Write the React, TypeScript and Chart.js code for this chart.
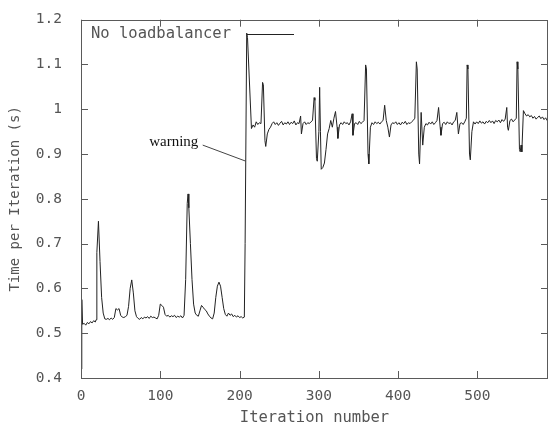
import React, { useEffect, useRef } from "react";
import { Chart, registerables } from "chart.js";

Chart.register(...registerables);

const iterations = [
  0, 1, 2, 4, 6, 8, 10, 12, 14, 16, 18, 19, 20, 22, 24, 26, 28, 30, 32, 34, 36, 38, 40, 42, 44, 46, 48, 50,
  52, 54, 56, 58, 60, 62, 64, 66, 68, 70, 72, 74, 76, 78, 80, 82, 84, 86, 88, 90, 92, 94, 96, 98, 100, 102,
  104, 106, 108, 110, 112, 114, 116, 118, 120, 122, 124, 126, 128, 130, 132, 134, 135, 136, 138, 140, 142,
  144, 146, 148, 150, 152, 154, 156, 158, 160, 162, 164, 166, 168, 170, 172, 174, 176, 178, 180, 182, 184,
  186, 188, 190, 192, 194, 196, 198, 200, 202, 204, 206, 207, 209, 210, 215, 217, 219, 221, 223, 225, 227,
  229, 230, 232, 233, 235, 237, 239, 241, 243, 245, 247, 249, 251, 253, 255, 257, 259, 261, 263, 265, 267,
  269, 271, 273, 275, 277, 278, 280, 282, 284, 286, 288, 290, 292, 294, 295, 297, 298, 300, 301, 302, 303,
  305, 307, 309, 311, 313, 315, 317, 319, 321, 323, 324, 326, 328, 330, 332, 334, 336, 338, 340, 342, 343,
  345, 347, 349, 351, 353, 355, 357, 359, 360, 362, 363, 365, 367, 369, 371, 373, 375, 377, 379, 381, 383,
  385, 387, 389, 391, 393, 395, 397, 399, 401, 403, 405, 407, 409, 411, 413, 415, 417, 419, 421, 423, 424,
  426, 427, 429, 431, 433, 435, 437, 439, 441, 443, 445, 447, 449, 451, 453, 454, 456, 458, 460, 462, 464,
  466, 468, 470, 472, 474, 476, 478, 480, 482, 484, 486, 487, 488, 490, 491, 493, 495, 497, 499, 501, 503,
  505, 507, 509, 511, 513, 515, 517, 519, 521, 523, 525, 527, 529, 531, 533, 535, 537, 538, 539, 541, 543,
  545, 547, 549, 550, 551, 553, 554, 555, 556, 558, 560, 562, 564, 566, 568, 570, 572, 574, 576, 578, 580,
  582, 584, 586, 588, 589,
];

const times = [
  0.42, 0.575, 0.52, 0.522, 0.518, 0.524, 0.521, 0.526, 0.523, 0.528, 0.525, 0.53, 0.68, 0.75, 0.66, 0.58,
  0.545, 0.532, 0.531, 0.533, 0.53, 0.534, 0.531, 0.535, 0.555, 0.552, 0.555, 0.54, 0.536, 0.535, 0.537,
  0.54, 0.56, 0.6, 0.619, 0.59, 0.55, 0.537, 0.533, 0.531, 0.535, 0.532, 0.536, 0.534, 0.537, 0.533, 0.538,
  0.535, 0.536, 0.534, 0.532, 0.54, 0.565, 0.562, 0.558, 0.542, 0.538, 0.54, 0.536, 0.539, 0.537, 0.54,
  0.535, 0.538, 0.536, 0.539, 0.534, 0.54, 0.62, 0.79, 0.811, 0.78, 0.7, 0.62, 0.565, 0.545, 0.54, 0.538,
  0.55, 0.562, 0.558, 0.553, 0.55, 0.543, 0.538, 0.534, 0.532, 0.545, 0.58, 0.605, 0.614, 0.605, 0.58,
  0.555, 0.542, 0.538, 0.545, 0.54, 0.543, 0.537, 0.54, 0.536, 0.539, 0.535, 0.537, 0.534, 0.536, 0.7,
  1.17, 1.16, 0.957, 0.965, 0.96, 0.972, 0.966, 0.97, 0.968, 1.06, 1.055, 0.93, 0.917, 0.945, 0.955, 0.96,
  0.968, 0.972, 0.966, 0.97, 0.964, 0.969, 0.973, 0.965, 0.97, 0.967, 0.972, 0.966, 0.971, 0.968, 0.974,
  0.965, 0.97, 0.968, 0.985, 0.945, 0.968, 0.972, 0.966, 0.97, 0.968, 0.972, 0.975, 1.026, 1.02, 0.89,
  0.884, 0.95, 1.049, 0.95, 0.866, 0.87, 0.88, 0.91, 0.945, 0.957, 0.975, 0.96, 0.98, 0.995, 0.96, 0.935,
  0.965, 0.97, 0.966, 0.972, 0.968, 0.97, 0.965, 0.972, 0.99, 0.942, 0.968, 0.97, 0.966, 0.973, 0.968,
  0.971, 0.975, 1.099, 1.09, 0.9, 0.878, 0.96, 0.97, 0.966, 0.972, 0.968, 0.971, 0.967, 0.972, 0.975,
  1.009, 0.975, 0.96, 0.938, 0.965, 0.97, 0.968, 0.972, 0.966, 0.97, 0.965, 0.971, 0.968, 0.973, 0.966,
  0.97, 0.968, 0.972, 0.975, 0.98, 1.106, 1.09, 0.9, 0.878, 0.993, 0.92, 0.96, 0.968, 0.965, 0.971, 0.967,
  0.972, 0.966, 0.97, 0.975, 1.004, 0.96, 0.942, 0.968, 0.971, 0.966, 0.972, 0.968, 0.97, 0.965, 0.972,
  0.975, 0.993, 0.945, 0.968, 0.97, 0.966, 0.972, 0.98, 1.099, 1.09, 0.9, 0.887, 0.95, 0.972, 0.967, 0.972,
  0.968, 0.974, 0.969, 0.972, 0.967, 0.973, 0.97, 0.975, 0.97, 0.974, 0.968, 0.975, 0.972, 0.976, 0.97,
  0.977, 0.973, 0.978, 1.004, 0.96, 0.953, 0.975, 0.978, 0.972, 0.976, 0.98, 1.106, 1.09, 0.91, 0.905,
  0.92, 0.905, 0.997, 0.99, 0.985, 0.988, 0.983, 0.986, 0.98, 0.984, 0.978, 0.982, 0.985, 0.979, 0.983,
  0.977, 0.981, 0.975, 0.978,
];

const xTicks = [0, 100, 200, 300, 400, 500];
const yTicks = [0.4, 0.5, 0.6, 0.7, 0.8, 0.9, 1.0, 1.1, 1.2];
const seriesLabel = "No loadbalancer";
const xTitle = "Iteration number";
const yTitle = "Time per Iteration (s)";
const noteText = "warning";
const noteTextAt = { x: 148, y: 0.927 };
const noteArrowFrom = { x: 153.5, y: 0.92 };
const noteArrowTo = { x: 208, y: 0.884 };

const MONO = "'DejaVu Sans Mono', 'Liberation Mono', monospace";
const FRAME = "#5a5a5a";
const TEXT = "#555555";

const framePlugin = {
  id: "gnuplotFrame",
  afterDraw(chart: any) {
    const { ctx, chartArea } = chart;
    const xs = chart.scales.x;
    const ys = chart.scales.y;
    const { left, right, top, bottom } = chartArea;
    ctx.save();
    ctx.strokeStyle = FRAME;
    ctx.lineWidth = 1;
    ctx.beginPath();
    ctx.rect(Math.round(left) + 0.5, Math.round(top) + 0.5, Math.round(right - left) - 1, Math.round(bottom - top));
    ctx.stroke();
    const tl = 7;
    ctx.beginPath();
    for (const v of xTicks) {
      const px = Math.round(xs.getPixelForValue(v)) + 0.5;
      ctx.moveTo(px, bottom);
      ctx.lineTo(px, bottom - tl);
      ctx.moveTo(px, top);
      ctx.lineTo(px, top + tl);
    }
    for (const v of yTicks) {
      const py = Math.round(ys.getPixelForValue(v)) + 0.5;
      ctx.moveTo(left, py);
      ctx.lineTo(left + tl, py);
      ctx.moveTo(right, py);
      ctx.lineTo(right - tl, py);
    }
    ctx.stroke();

    // key
    ctx.font = `15.5px ${MONO}`;
    ctx.fillStyle = TEXT;
    ctx.textBaseline = "middle";
    ctx.textAlign = "left";
    const ky = top + 14.5;
    ctx.fillText(seriesLabel, left + 10, ky);
    ctx.strokeStyle = "#222222";
    ctx.beginPath();
    ctx.moveTo(left + 166, Math.round(ky) + 0.5);
    ctx.lineTo(left + 213, Math.round(ky) + 0.5);
    ctx.stroke();

    // annotation
    ctx.font = "15px 'Liberation Serif', 'DejaVu Serif', serif";
    ctx.fillStyle = "#111111";
    ctx.textAlign = "right";
    ctx.fillText(noteText, xs.getPixelForValue(noteTextAt.x), ys.getPixelForValue(noteTextAt.y));
    ctx.strokeStyle = "#444444";
    ctx.beginPath();
    ctx.moveTo(xs.getPixelForValue(noteArrowFrom.x), ys.getPixelForValue(noteArrowFrom.y));
    ctx.lineTo(xs.getPixelForValue(noteArrowTo.x), ys.getPixelForValue(noteArrowTo.y));
    ctx.stroke();
    ctx.restore();
  },
};

export default function App() {
  const ref = useRef<HTMLCanvasElement | null>(null);
  useEffect(() => {
    if (!ref.current) return;
    const points = iterations.map((x, i) => ({ x, y: times[i] }));
    const chart = new Chart(ref.current, {
      type: "line",
      data: {
        datasets: [
          {
            label: seriesLabel,
            data: points,
            borderColor: "#222222",
            borderWidth: 1,
            pointRadius: 0,
            tension: 0,
            fill: false,
          },
        ],
      },
      options: {
        responsive: false,
        animation: false,
        layout: { padding: { top: 12, right: 1, left: 0, bottom: 0 } },
        plugins: { legend: { display: false }, tooltip: { enabled: false } },
        scales: {
          x: {
            type: "linear",
            min: 0,
            max: 589,
            afterBuildTicks: (s: any) => {
              s.ticks = xTicks.map((v) => ({ value: v }));
            },
            afterFit: (s: any) => {
              s.height = 49;
            },
            grid: { display: false },
            border: { display: false },
            ticks: {
              font: { family: MONO, size: 14.5 },
              color: TEXT,
              padding: 2,
              maxRotation: 0,
              callback: (v: any) => String(v),
            },
            title: {
              display: true,
              text: xTitle,
              font: { family: MONO, size: 15.5 },
              color: TEXT,
              padding: { top: 0, bottom: 0 },
            },
          },
          y: {
            type: "linear",
            min: 0.4,
            max: 1.2,
            afterBuildTicks: (s: any) => {
              s.ticks = yTicks.map((v) => ({ value: v }));
            },
            afterFit: (s: any) => {
              s.width = 81;
            },
            grid: { display: false },
            border: { display: false },
            ticks: {
              font: { family: MONO, size: 14.5 },
              color: TEXT,
              padding: 11,
              callback: (v: any) => String(Number(Number(v).toFixed(1))),
            },
            title: {
              display: true,
              text: yTitle,
              font: { family: MONO, size: 14 },
              color: TEXT,
              padding: { top: 7, bottom: 0 },
            },
          },
        },
      },
      plugins: [framePlugin],
    });
    return () => chart.destroy();
  }, []);
  return (
    <div style={{ position: "absolute", left: 0, top: 0, width: 549, height: 427 }}>
      <canvas ref={ref} width={549} height={427} />
    </div>
  );
}
